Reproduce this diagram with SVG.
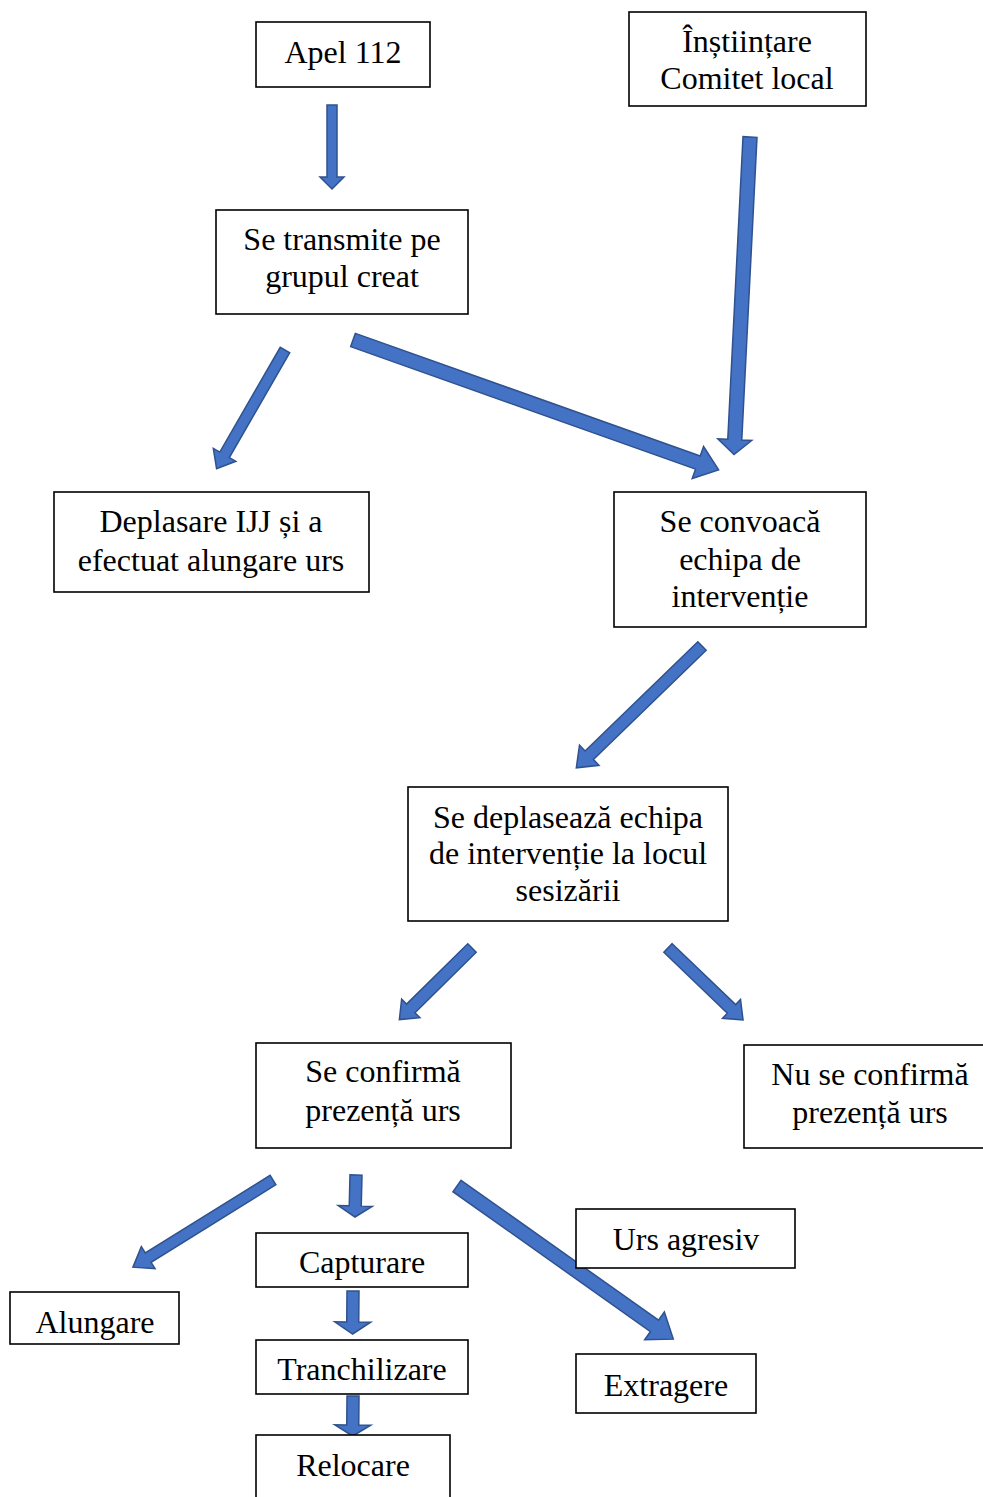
<svg xmlns="http://www.w3.org/2000/svg" width="983" height="1497" viewBox="0 0 983 1497">
<style>
.box{fill:#fff;stroke:#000;stroke-width:1.6}
.t{font-family:"Liberation Serif","Times New Roman",serif;font-size:32px;fill:#000;text-anchor:middle}
.ar{fill:#4472C4;stroke:#2F528F;stroke-width:1.5;stroke-linejoin:miter}
</style>
<rect width="983" height="1497" fill="#fff"/>
<g id="connectors">
<g transform="translate(332,105) rotate(90)"><polygon class="ar" points="0,-5 72,-5 72,-12 84,0 72,12 72,5 0,5"/></g>
<g transform="translate(750,137) rotate(92.88)"><polygon class="ar" points="0,-7 303,-7 303,-17 318,0 303,17 303,7 0,7"/></g>
<g transform="translate(285,350) rotate(119.96)"><polygon class="ar" points="0,-5.5 121,-5.5 121,-13 137,0 121,13 121,5.5 0,5.5"/></g>
<g transform="translate(353,340) rotate(19.56)"><polygon class="ar" points="0,-7 366,-7 366,-17 388,0 366,17 366,7 0,7"/></g>
<g transform="translate(702,646) rotate(135.9)"><polygon class="ar" points="0,-6 157,-6 157,-14 175,0 157,14 157,6 0,6"/></g>
<g transform="translate(472,948) rotate(135.4)"><polygon class="ar" points="0,-6 86,-6 86,-13 102,0 86,13 86,6 0,6"/></g>
<g transform="translate(668,948) rotate(43.8)"><polygon class="ar" points="0,-6 88,-6 88,-13 104,0 88,13 88,6 0,6"/></g>
<g transform="translate(273,1180) rotate(148.1)"><polygon class="ar" points="0,-5.5 147,-5.5 147,-13 165,0 147,13 147,5.5 0,5.5"/></g>
<g transform="translate(356,1175) rotate(91.4)"><polygon class="ar" points="0,-6 31,-6 31,-17 42,0 31,17 31,6 0,6"/></g>
<g transform="translate(457,1186) rotate(35.3)"><polygon class="ar" points="0,-7 242,-7 242,-17 265,0 242,17 242,7 0,7"/></g>
<g transform="translate(353,1291) rotate(90.5)"><polygon class="ar" points="0,-6 31,-6 31,-18 43,0 31,18 31,6 0,6"/></g>
<g transform="translate(353,1396) rotate(90.5)"><polygon class="ar" points="0,-6 29,-6 29,-18 40,0 29,18 29,6 0,6"/></g>
</g>
<g id="apel"><rect class="box" x="256" y="22" width="174" height="65"/><text class="t" x="343" y="63">Apel 112</text></g>
<g id="instiintare"><rect class="box" x="629" y="12" width="237" height="94"/><text class="t" x="747" y="52">Înștiințare</text><text class="t" x="747" y="89">Comitet local</text></g>
<g id="transmite"><rect class="box" x="216" y="210" width="252" height="104"/><text class="t" x="342" y="250">Se transmite pe</text><text class="t" x="342" y="287">grupul creat</text></g>
<g id="deplasare"><rect class="box" x="54" y="492" width="315" height="100"/><text class="t" x="211" y="532">Deplasare IJJ și a</text><text class="t" x="211" y="571">efectuat alungare urs</text></g>
<g id="convoaca"><rect class="box" x="614" y="492" width="252" height="135"/><text class="t" x="740" y="532">Se convoacă</text><text class="t" x="740" y="570">echipa de</text><text class="t" x="740" y="607">intervenție</text></g>
<g id="deplaseaza"><rect class="box" x="408" y="787" width="320" height="134"/><text class="t" x="568" y="828">Se deplasează echipa</text><text class="t" x="568" y="864">de intervenție la locul</text><text class="t" x="568" y="901">sesizării</text></g>
<g id="confirma"><rect class="box" x="256" y="1043" width="255" height="105"/><text class="t" x="383" y="1082">Se confirmă</text><text class="t" x="383" y="1121">prezență urs</text></g>
<g id="nuconfirma"><rect class="box" x="744" y="1045" width="245" height="103"/><text class="t" x="870" y="1085">Nu se confirmă</text><text class="t" x="870" y="1123">prezență urs</text></g>
<g id="agresiv"><rect class="box" x="576" y="1209" width="219" height="59"/><text class="t" x="686" y="1250">Urs agresiv</text></g>
<g id="alungare"><rect class="box" x="10" y="1292" width="169" height="52"/><text class="t" x="95" y="1333">Alungare</text><rect x="11" y="1345" width="170" height="12" fill="#fff"/></g>
<g id="capturare"><rect class="box" x="256" y="1233" width="212" height="54"/><text class="t" x="362" y="1273">Capturare</text></g>
<g id="tranchilizare"><rect class="box" x="256" y="1340" width="212" height="54"/><text class="t" x="362" y="1380">Tranchilizare</text></g>
<g id="relocare"><rect class="box" x="256" y="1435" width="194" height="70"/><text class="t" x="353" y="1476">Relocare</text></g>
<g id="extragere"><rect class="box" x="576" y="1354" width="180" height="59"/><text class="t" x="666" y="1396">Extragere</text></g>
</svg>
